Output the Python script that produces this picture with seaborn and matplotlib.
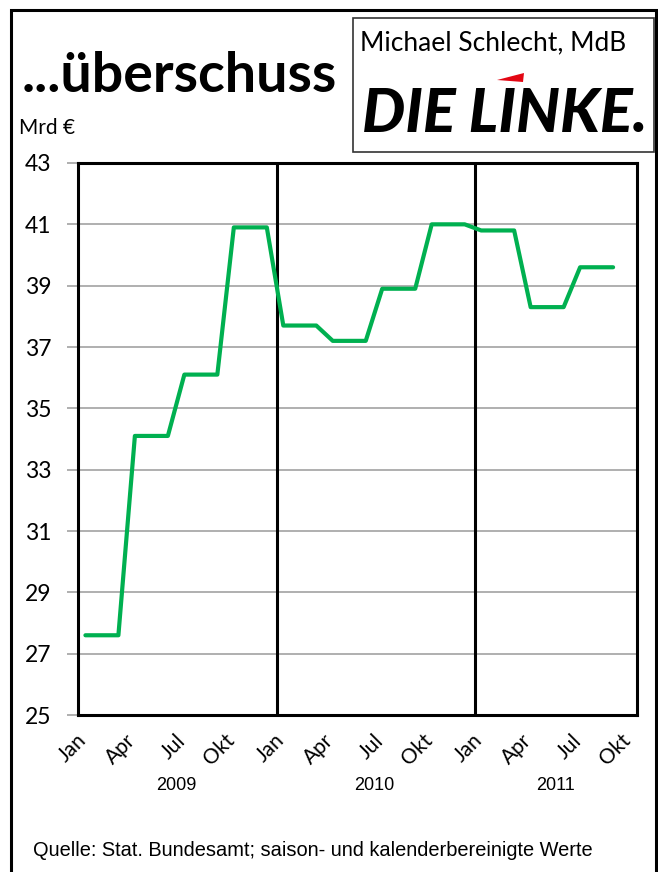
import numpy as np
import pandas as pd
import matplotlib
matplotlib.use('Agg')
import matplotlib.pyplot as plt
import matplotlib.patches as mpatches
import matplotlib.transforms as mtransforms
import seaborn as sns

# Daten: Monatswerte Jan 2009 - Okt 2011 (Quartalswerte, je Monat wiederholt), Mrd €
jahre = ['2009', '2010', '2011']
tick_monate = ['Jan', 'Apr', 'Jul', 'Okt']
werte_2009 = [27.6, 27.6, 27.6, 34.1, 34.1, 34.1, 36.1, 36.1, 36.1, 40.9, 40.9, 40.9]
werte_2010 = [37.7, 37.7, 37.7, 37.2, 37.2, 37.2, 38.9, 38.9, 38.9, 41.0, 41.0, 41.0]
werte_2011 = [40.8, 40.8, 40.8, 38.3, 38.3, 38.3, 39.6, 39.6, 39.6, np.nan]
y_ticks = [25, 27, 29, 31, 33, 35, 37, 39, 41, 43]

titel = '...überschuss'
einheit = 'Mrd €'
quelle = 'Quelle: Stat. Bundesamt; saison- und kalenderbereinigte Werte'

sns.set_theme(style='white')
plt.rcParams['font.family'] = ['Lato', 'DejaVu Sans']
plt.rcParams['text.color'] = 'black'
plt.rcParams['xtick.color'] = 'black'
plt.rcParams['ytick.color'] = 'black'

W, H = 658, 872
fig = plt.figure(figsize=(W / 100, H / 100), dpi=100)

def px(x, y):
    # Pixel (oben links) -> Figurkoordinaten
    return x / W, 1 - y / H

# Tabelle bauen
rows = []
for jahr, werte in zip(jahre, [werte_2009, werte_2010, werte_2011]):
    for w in werte:
        rows.append({'jahr': jahr, 'wert': w})
df = pd.DataFrame(rows)
df['idx'] = np.arange(len(df))

# Achse
left, right, top, bottom = 78, 637, 163, 715
ax = fig.add_axes([left / W, 1 - bottom / H, (right - left) / W, (bottom - top) / H])

ax.set_ylim(25, 43)
ax.set_yticks(y_ticks)
ax.yaxis.grid(True, color='#9a9a9a', linewidth=1.1)
ax.xaxis.grid(False)

# Jahrestrenner
for jahr in jahre[1:]:
    start = df.loc[df['jahr'] == jahr, 'idx'].min()
    ax.axvline(start - 0.4, color='black', linewidth=2.2, zorder=2)

sns.lineplot(data=df, x='idx', y='wert', color='#00B050', linewidth=3.0,
             ax=ax, zorder=3)

ax.set_xlim(-0.45, len(df) - 1 + 0.45)
xt = list(range(0, len(df), 3))
ax.set_xticks(xt)
ax.set_xticklabels([tick_monate[(i // 3) % 4] for i in xt], rotation=45, ha='right',
                   fontsize=15)
ax.set_xlabel('')
ax.set_ylabel('')
ax.tick_params(axis='x', length=0, pad=11)
ax.tick_params(axis='y', length=8, width=1.1, color='#9a9a9a', labelcolor='black',
               pad=11, labelsize=16.5, left=True)
off = mtransforms.ScaledTranslation(5 / 100, 0, fig.dpi_scale_trans)
for lab in ax.get_xticklabels():
    lab.set_transform(lab.get_transform() + off)

for s in ax.spines.values():
    s.set_color('black')
    s.set_linewidth(2.2)

# Jahresbeschriftung
trans = mtransforms.blended_transform_factory(ax.transData, ax.transAxes)
for jahr in jahre:
    ids = df.loc[df['jahr'] == jahr, 'idx']
    ax.text((ids.min() + ids.max()) / 2, -(785 - bottom) / (bottom - top), jahr,
            transform=trans, ha='center', va='center', fontsize=13,
            family='Liberation Sans')

# Texte
fig.text(*px(22, 92), titel, fontsize=40, fontweight='bold', ha='left', va='baseline')
fig.text(*px(19, 134), einheit, fontsize=15, ha='left', va='baseline')
fig.text(*px(33, 850), quelle, fontsize=14.4, ha='left', va='center',
         family='Liberation Sans')

# Logo-Kasten
x0, y0 = px(353, 152)
x1, y1 = px(654, 18)
fig.patches.append(mpatches.Rectangle((x0, y0), x1 - x0, y1 - y0, transform=fig.transFigure,
                                      fill=False, edgecolor='#333333', linewidth=1.2))
fig.text(*px(360, 50), 'Michael Schlecht, MdB', fontsize=19, ha='left', va='baseline')
fig.text(*px(362, 132), 'DIE LINKE.', fontsize=44, fontweight='black', style='italic',
         ha='left', va='baseline')
tri = [px(497, 80), px(524, 73), px(523, 82)]
fig.patches.append(mpatches.Polygon(tri, closed=True, transform=fig.transFigure,
                                    facecolor='#e30613', edgecolor='none'))

# Rahmen
fx0, fy0 = px(11, 900)
fx1, fy1 = px(656, 10)
fig.patches.append(mpatches.Rectangle((fx0, fy0), fx1 - fx0, fy1 - fy0, transform=fig.transFigure,
                                      fill=False, edgecolor='black', linewidth=2.2))

fig.savefig('out.png', dpi=100)
